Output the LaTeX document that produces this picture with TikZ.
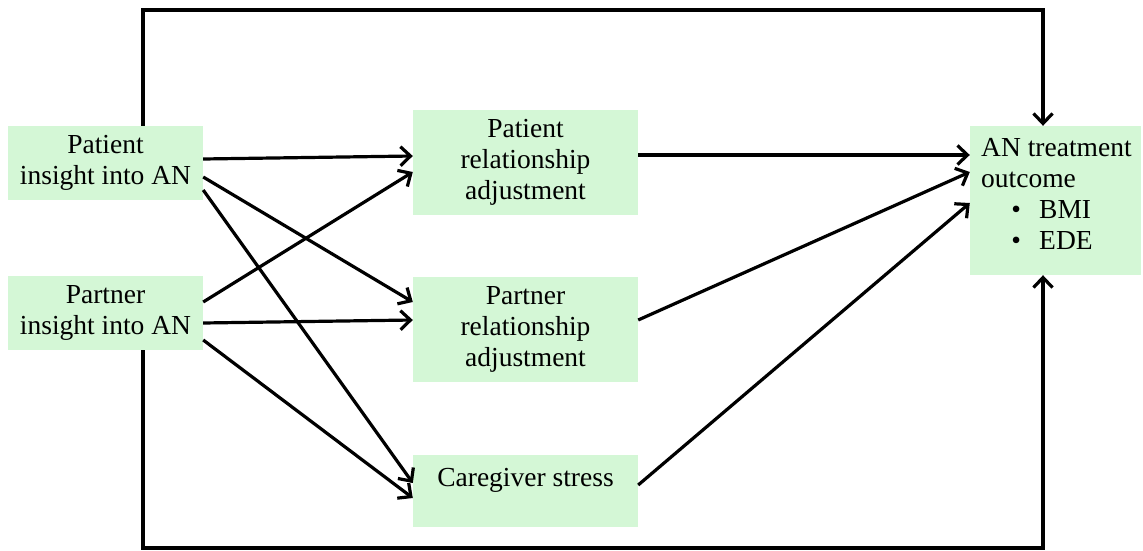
\documentclass[tikz,border=0pt]{standalone}
\usepackage{fontspec}
\setmainfont{Liberation Serif}
\usetikzlibrary{arrows.meta}
\definecolor{boxgreen}{RGB}{212,247,214}
\tikzset{
  box/.style={fill=boxgreen, draw=none, inner sep=0pt, align=center,
    font=\fontsize{27.5}{31}\selectfont},
  arr/.style={line width=3.2pt, -{Straight Barb[length=10pt,width=19pt]}},
  txt/.style={inner sep=0pt, align=center, font=\fontsize{27.5}{31}\selectfont}
}
\begin{document}
\begin{tikzpicture}[x=1pt,y=-1pt]
\useasboundingbox (0,0) rectangle (1143,551);
% nodes
\node[box, minimum width=195pt, minimum height=74pt] (pa) at (105.5,163) {Patient\\insight into AN};
\node[box, minimum width=195pt, minimum height=74pt] (pb) at (105.5,313) {Partner\\insight into AN};
\node[box, minimum width=225pt, minimum height=105pt] (ra) at (525.5,162.5) {Patient\\relationship\\adjustment};
\node[box, minimum width=225pt, minimum height=105pt] (rb) at (525.5,329.5) {Partner\\relationship\\adjustment};
\node[box, minimum width=225pt, minimum height=72pt] (cg) at (525.5,491) {};
\node[txt] (cgt) at (525.5,480) {Caregiver stress};
\node[box, minimum width=171pt, minimum height=149pt] (out) at (1055.5,200.5) {};
\node[txt, align=left, anchor=north west] (outt) at (981,138)
  {AN treatment\\outcome\\\hspace*{30pt}\makebox[10pt]{\textbullet}\hspace{18pt}BMI\\\hspace*{30pt}\makebox[10pt]{\textbullet}\hspace{18pt}EDE};
% frame coordinates
\coordinate (tl) at (143,10);
\coordinate (tr) at (1043,10);
\coordinate (bl) at (143,548);
\coordinate (br) at (1043,548);
% feedback lines
\draw[arr, line join=miter] ([xshift=37.5pt]pa.north) -- (tl) -- (tr) -- ([xshift=-12.5pt]out.north);
\draw[arr, line join=miter] ([xshift=37.5pt]pb.south) -- (bl) -- (br) -- ([xshift=-12.5pt]out.south);
% left to middle
\draw[arr] ([yshift=4pt]pa.east) -- ([yshift=6.5pt]ra.west);
\draw[arr] ([yshift=-14pt]pa.east) -- ([yshift=27.5pt]rb.west);
\draw[arr] ([yshift=-27pt]pa.east) -- ([yshift=8pt]cg.west);
\draw[arr] ([yshift=11pt]pb.east) -- ([yshift=-9.5pt]ra.west);
\draw[arr] ([yshift=-10pt]pb.east) -- ([yshift=9.5pt]rb.west);
\draw[arr] ([yshift=-27pt]pb.east) -- ([yshift=-7pt]cg.west);
% middle to outcome
\draw[arr] ([yshift=7.5pt]ra.east) -- ([yshift=45.5pt]out.west);
\draw[arr] ([yshift=9.5pt]rb.east) -- ([yshift=28.5pt]out.west);
\draw[arr] ([yshift=6pt]cg.east) -- ([yshift=-2.5pt]out.west);
\end{tikzpicture}
\end{document}
